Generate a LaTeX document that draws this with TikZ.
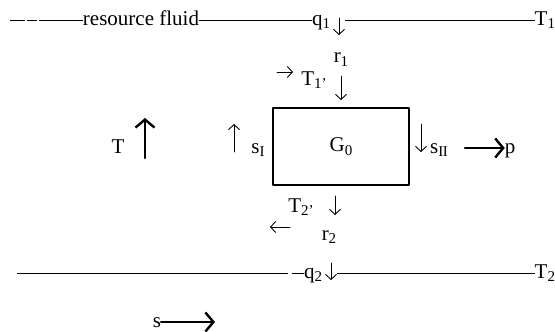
\documentclass[tikz,border=0pt]{standalone}
\usepackage{fontspec}
\setmainfont{Liberation Serif}
\usetikzlibrary{arrows.meta,positioning}
\newcommand{\lo}[1]{\raisebox{-0.35ex}{\fontsize{15}{15}\selectfont #1}}
\tikzset{
    every picture/.style={line cap=round,line join=round},
    lbl/.style={inner sep=0pt,outer sep=0pt,text height=14pt,text depth=4pt,
      font=\fontsize{21}{24}\selectfont},
    fluidline/.style={draw=black,line width=0.9pt,line cap=butt},
    enginebox/.style={draw=black,line width=1.1pt,minimum width=136pt,
      minimum height=77pt,inner sep=0pt,font=\fontsize{21}{24}\selectfont},
    smallarrow/.style={-{Straight Barb[length=5pt,width=11pt,line width=0.9pt]},
      line width=0.9pt},
    bigarrow/.style={-{Straight Barb[length=8pt,width=19pt,line width=2.4pt]},
      line width=2.6pt}
}

\begin{document}
\begin{tikzpicture}[x=1pt,y=-1pt]
  \useasboundingbox (0,0) rectangle (555,332);
  % upper fluid line
  \coordinate (topstart) at (10,20);
  \node[lbl] (fluid) at (141,20) {resource fluid};
  \node[lbl] (q1) at (321,20) {q\lo{1}};
  \coordinate (q1tail) at (339,18);
  \coordinate (q1head) at (339,35);
  \coordinate (q1gap) at (345,20);
  \node[lbl,anchor=east] (T1) at (555,20) {T\lo{1}};
  \draw[fluidline,dash pattern=on 15pt off 2pt on 10pt off 2pt on 60pt] (topstart) -- (fluid.west);
  \draw[fluidline] (fluid.east) -- (q1.west);
  \draw[smallarrow] (q1tail) -- (q1head);
  \draw[fluidline] (q1gap) -- (T1.west);
  % heat engine
  \node[lbl] (r1) at (341,58) {r\lo{1}};
  \node[lbl] (T1p) at (314,80) {T\lo{1'}};
  \coordinate (intail) at (277,72);
  \coordinate (inhead) at (293,72);
  \draw[smallarrow] (intail) -- (inhead);
  \coordinate (r1tail) at (341,76);
  \coordinate (r1head) at (341,100);
  \draw[smallarrow] (r1tail) -- (r1head);
  \node[enginebox] (G0) at (341,146.5) {G\lo{0}};
  \node[lbl] (sI) at (258,148) {s\lo{I}};
  \coordinate (sItail) at (234,152);
  \coordinate (sIhead) at (234,124);
  \draw[smallarrow] (sItail) -- (sIhead);
  \node[lbl] (sII) at (439,148) {s\lo{I\kern-0.6pt I}};
  \coordinate (sIItail) at (421,124);
  \coordinate (sIIhead) at (421,152);
  \draw[smallarrow] (sIItail) -- (sIIhead);
  \node[lbl] (T2p) at (301,207) {T\lo{2'}};
  \coordinate (r2tail) at (335,196);
  \coordinate (r2head) at (335,215);
  \draw[smallarrow] (r2tail) -- (r2head);
  \coordinate (outtail) at (290,227);
  \coordinate (outhead) at (270,227);
  \draw[smallarrow] (outtail) -- (outhead);
  \node[lbl] (r2) at (329,235) {r\lo{2}};
  % axes
  \node[lbl] (T) at (118,148) {T};
  \coordinate (Tfoot) at (145,158);
  \coordinate (Ttip) at (145,118);
  \draw[bigarrow] (Tfoot) -- (Ttip);
  \node[lbl] (p) at (510,148) {p};
  \coordinate (pfoot) at (465,148);
  \draw[bigarrow] (pfoot) -- (p.west);
  \node[lbl] (s) at (157,322) {s};
  \coordinate (stip) at (215,322);
  \draw[bigarrow] (s.east) -- (stip);
  % lower fluid line
  \coordinate (botstart) at (17,273);
  \node[lbl] (q2) at (313,273) {q\lo{2}};
  \coordinate (q2tail) at (331,263);
  \coordinate (q2head) at (331,280);
  \coordinate (q2gap) at (337,273);
  \node[lbl,anchor=east] (T2) at (555,273) {T\lo{2}};
  \draw[fluidline,dash pattern=on 271pt off 4pt on 40pt] (botstart) -- (q2.west);
  \draw[smallarrow] (q2tail) -- (q2head);
  \draw[fluidline] (q2gap) -- (T2.west);
\end{tikzpicture}
\end{document}
